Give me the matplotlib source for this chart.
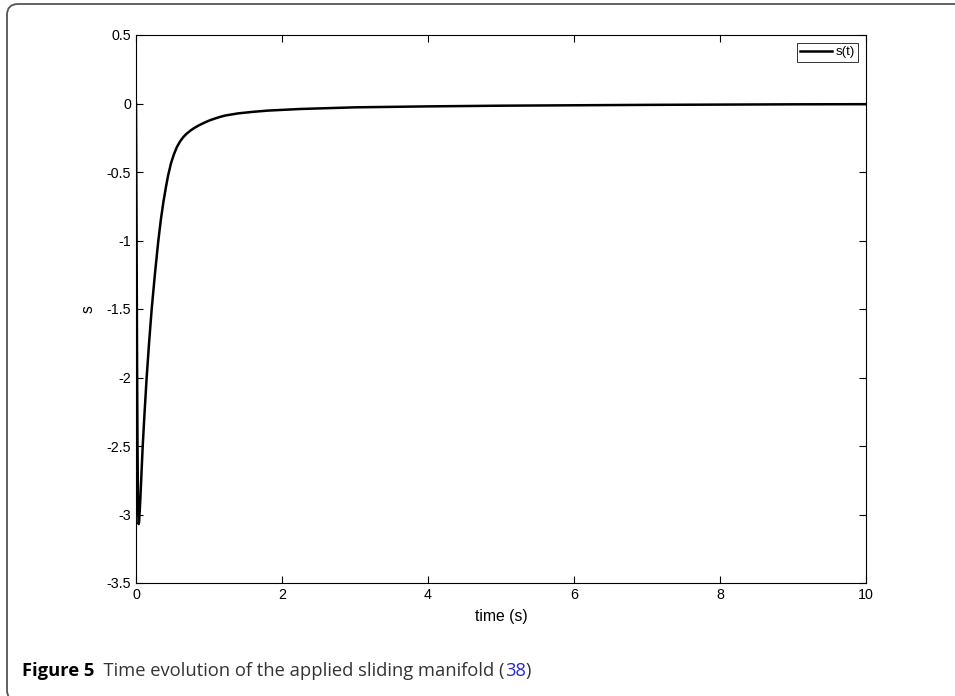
"""
plot.py - sliding manifold s(t) figure with journal-style caption frame
"""

import matplotlib as mpl
import matplotlib.pyplot as plt
import matplotlib.patches as mpatches
from matplotlib.transforms import IdentityTransform

mpl.rcParams.update({
    "font.family": "sans-serif",
    "font.sans-serif": ["Liberation Sans"],
    "font.size": 10,
    "axes.linewidth": 0.8,
    "axes.unicode_minus": False,
})

# values
time = [0.0, 0.004, 0.008, 0.014, 0.02, 0.026, 0.031, 0.037, 0.043, 0.05,
        0.06, 0.075, 0.092, 0.118, 0.146, 0.18, 0.215, 0.26, 0.306, 0.34,
        0.375, 0.41, 0.44, 0.48, 0.52, 0.56, 0.6, 0.645, 0.69, 0.75, 0.8,
        0.87, 0.945, 1.01, 1.08, 1.15, 1.22, 1.4, 1.6, 1.8, 2.25, 3.0, 4.0,
        5.0, 6.0, 7.0, 8.0, 9.0, 10.0]
s_val = [0.0, -0.5, -1.0, -1.8, -2.45, -2.85, -3.0, -3.07, -3.05, -2.98,
         -2.88, -2.7, -2.5, -2.25, -2.0, -1.74, -1.5, -1.24, -1.0, -0.85,
         -0.72, -0.61, -0.525, -0.435, -0.37, -0.318, -0.28, -0.247,
         -0.222, -0.196, -0.178, -0.157, -0.138, -0.123, -0.11, -0.098,
         -0.088, -0.072, -0.061, -0.052, -0.04, -0.028, -0.021, -0.016,
         -0.013, -0.01, -0.008, -0.006, -0.005]

x_ticks = [0, 2, 4, 6, 8, 10]
y_ticks = [0.5, 0, -0.5, -1, -1.5, -2, -2.5, -3, -3.5]

W, H = 955, 696
fig = plt.figure(figsize=(W / 100, H / 100), dpi=100)

# rounded frame around figure + caption (pixel coordinates, y from bottom)
frame = mpatches.FancyBboxPatch(
    (7, -5), W + 40, H - 4 + 5,
    boxstyle="round,pad=0,rounding_size=11",
    transform=IdentityTransform(), facecolor="none",
    edgecolor="#555555", linewidth=1.3, clip_on=False)
fig.patches.append(frame)

ax = fig.add_axes([136 / W, 1 - 583 / H, (866 - 136) / W, (583 - 35) / H])
ax.plot(time, s_val, color="black", lw=1.8, label="s(t)",
        solid_joinstyle="round")

ax.set_xlim(0, 10)
ax.set_ylim(-3.5, 0.5)
ax.set_xticks(x_ticks)
ax.set_yticks(y_ticks)
ax.set_yticklabels([f"{v:g}" for v in y_ticks])
ax.tick_params(direction="in", top=True, right=True, length=5, width=0.8,
               labelsize=10.3)
ax.set_xlabel("time (s)", fontsize=11.3, labelpad=5)
ax.set_ylabel("s", fontsize=11.3, labelpad=8)

leg = ax.legend(loc="upper right", fontsize=9.5, frameon=True, fancybox=False,
                handlelength=2.4, handletextpad=0.3, borderpad=0.25,
                borderaxespad=0.6)
leg.get_frame().set_edgecolor("black")
leg.get_frame().set_linewidth(0.7)

# caption, pieced together so the reference number can be blue
fig.canvas.draw()
rend = fig.canvas.get_renderer()
pieces = [
    ("Figure 5", "bold", "black"),
    ("  Time evolution of the applied sliding manifold (", "normal", "#333333"),
    ("38", "normal", "#2a2ad0"),
    (")", "normal", "#333333"),
]
x = 22 / W
for txt, weight, col in pieces:
    t = fig.text(x, 1 - 671 / H, txt, fontsize=13.2, fontweight=weight,
                 color=col, family="Open Sans", va="center", ha="left")
    bb = t.get_window_extent(renderer=rend)
    x += bb.width / W

fig.savefig("out.png", dpi=100)
